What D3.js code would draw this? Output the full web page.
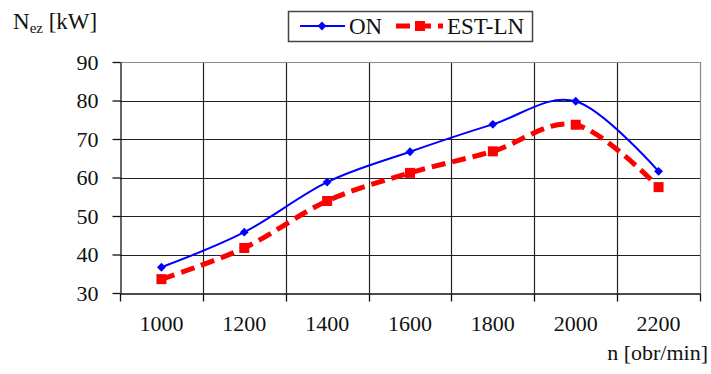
<html>
<head>
<meta http-equiv="Content-Type" content="text/html; charset=utf-8" />
<script src="https://cdn.jsdelivr.net/npm/d3@7/dist/d3.min.js" charset="utf-8"></script>
<style type="text/css">
body { margin: 0; background-color: #FFFFFF; }
svg text { font-family: 'Liberation Serif', 'Times New Roman', serif; fill: #111; }
</style>
</head>
<body>
<svg id="chart" width="711" height="374" version="1.1" xmlns="http://www.w3.org/2000/svg"></svg>
<script type="text/javascript">
// dane z wykresu
var v_Speeds = ["1000", "1200", "1400", "1600", "1800", "2000", "2200"];
var v_ON     = [36.7, 45.8, 58.8, 66.7, 73.8, 79.8, 61.6];
var v_ESTLN  = [33.6, 41.7, 53.9, 61.2, 66.8, 73.7, 57.5];
var v_YTicks = [30, 40, 50, 60, 70, 80, 90];

var v_SVG = d3.select("#chart");
var v_Left = 120, v_Right = 700, v_Top = 62, v_Bottom = 293;

var v_X = d3.scaleBand().domain(v_Speeds).range([v_Left, v_Right]);
var v_Y = d3.scaleLinear().domain([30, 90]).range([v_Bottom, v_Top]);

function cx(i) { return v_X(v_Speeds[i]) + v_X.bandwidth() / 2; }

// siatka pozioma
v_SVG.append("g").selectAll("line")
.data(v_YTicks.slice(1, -1))
.enter().append("line")
.attr("x1", v_Left).attr("x2", v_Right)
.attr("y1", function (d) { return Math.round(v_Y(d)) + 0.5; })
.attr("y2", function (d) { return Math.round(v_Y(d)) + 0.5; })
.attr("stroke", "#222").attr("stroke-width", 1.2);

// siatka pionowa
v_SVG.append("g").selectAll("line")
.data(v_Speeds.slice(1))
.enter().append("line")
.attr("x1", function (d) { return Math.round(v_X(d)) + 0.5; })
.attr("x2", function (d) { return Math.round(v_X(d)) + 0.5; })
.attr("y1", v_Top).attr("y2", v_Bottom)
.attr("stroke", "#222").attr("stroke-width", 1.2);

// ramka obszaru wykresu
v_SVG.append("path")
.attr("d", "M" + v_Left + "," + (v_Top + 0.5) + " L" + (v_Right + 0.5) + "," + (v_Top + 0.5) + " L" + (v_Right + 0.5) + "," + v_Bottom)
.attr("fill", "none").attr("stroke", "#888").attr("stroke-width", 1.2);

// osie
var v_AxisY = d3.axisLeft(v_Y).tickValues(v_YTicks).tickSize(8).tickSizeOuter(0).tickPadding(14);
var v_GY = v_SVG.append("g").attr("transform", "translate(" + (v_Left + 0.5) + ",0)").call(v_AxisY)
.attr("font-family", null);
v_GY.select(".domain").attr("stroke", "#111").attr("stroke-width", 1.3);
v_GY.selectAll(".tick line").attr("stroke", "#111").attr("stroke-width", 1.3);
v_GY.selectAll(".tick text").style("font-size", "22px").attr("fill", "#111");

var v_AxisX = d3.axisBottom(v_X).tickSize(0).tickPadding(22);
var v_GX = v_SVG.append("g").attr("transform", "translate(0," + (v_Bottom + 0.5) + ")").call(v_AxisX)
.attr("font-family", null);
v_GX.select(".domain").attr("stroke", "#111").attr("stroke-width", 1.3);
v_GX.selectAll(".tick text").style("font-size", "22px").attr("fill", "#111");

// znaczniki na osi X na granicach kategorii
v_GX.append("g").selectAll("line")
.data(v_Speeds.concat(["end"]))
.enter().append("line")
.attr("x1", function (d, i) { return Math.round(i < v_Speeds.length ? v_X(d) : v_Right) + 0.5; })
.attr("x2", function (d, i) { return Math.round(i < v_Speeds.length ? v_X(d) : v_Right) + 0.5; })
.attr("y1", 0).attr("y2", 8)
.attr("stroke", "#111").attr("stroke-width", 1.3);

// linie wygładzone
var v_Line = d3.line()
.x(function (d, i) { return cx(i); })
.y(function (d) { return v_Y(d); })
.curve(d3.curveCardinal.tension(0));

v_SVG.append("path")
.attr("d", v_Line(v_ESTLN))
.attr("fill", "none").attr("stroke", "#FF0000").attr("stroke-width", 5)
.attr("stroke-dasharray", "14,7");

v_SVG.append("path")
.attr("d", v_Line(v_ON))
.attr("fill", "none").attr("stroke", "#0000FF").attr("stroke-width", 2);

// znaczniki
v_SVG.append("g").selectAll("rect")
.data(v_ESTLN)
.enter().append("rect")
.attr("x", function (d, i) { return cx(i) - 5; })
.attr("y", function (d) { return v_Y(d) - 5; })
.attr("width", 10).attr("height", 10)
.attr("fill", "#FF0000");

v_SVG.append("g").selectAll("path")
.data(v_ON)
.enter().append("path")
.attr("d", d3.symbol().type(d3.symbolDiamond2).size(50))
.attr("transform", function (d, i) { return "translate(" + cx(i) + "," + v_Y(d) + ")"; })
.attr("fill", "#0000FF");

// tytuły osi
var v_TitleY = v_SVG.append("text").attr("x", 13).attr("y", 29).style("font-size", "23px");
v_TitleY.append("tspan").text("N");
v_TitleY.append("tspan").style("font-size", "15px").attr("dy", 4).text("ez");
v_TitleY.append("tspan").attr("dy", -4).text(" [kW]");

v_SVG.append("text")
.attr("x", 708).attr("y", 360)
.attr("text-anchor", "end").style("font-size", "22px")
.text("n [obr/min]");

// legenda
var v_Leg = v_SVG.append("g");
v_Leg.append("rect")
.attr("x", 288.5).attr("y", 11.5).attr("width", 244).attr("height", 30)
.attr("fill", "#FFF").attr("stroke", "#444").attr("stroke-width", 1.5);

v_Leg.append("line").attr("x1", 300).attr("x2", 345).attr("y1", 26).attr("y2", 26)
.attr("stroke", "#0000FF").attr("stroke-width", 2);
v_Leg.append("path").attr("d", d3.symbol().type(d3.symbolDiamond2).size(50))
.attr("transform", "translate(322,26)").attr("fill", "#0000FF");
v_Leg.append("text").attr("x", 349).attr("y", 34).style("font-size", "23px").text("ON");

v_Leg.append("line").attr("x1", 396).attr("x2", 443).attr("y1", 26).attr("y2", 26)
.attr("stroke", "#FF0000").attr("stroke-width", 5).attr("stroke-dasharray", "14,7");
v_Leg.append("rect").attr("x", 415).attr("y", 21).attr("width", 10).attr("height", 10)
.attr("fill", "#FF0000");
v_Leg.append("text").attr("x", 447).attr("y", 34).style("font-size", "23px").text("EST-LN");
</script>
</body>
</html>
